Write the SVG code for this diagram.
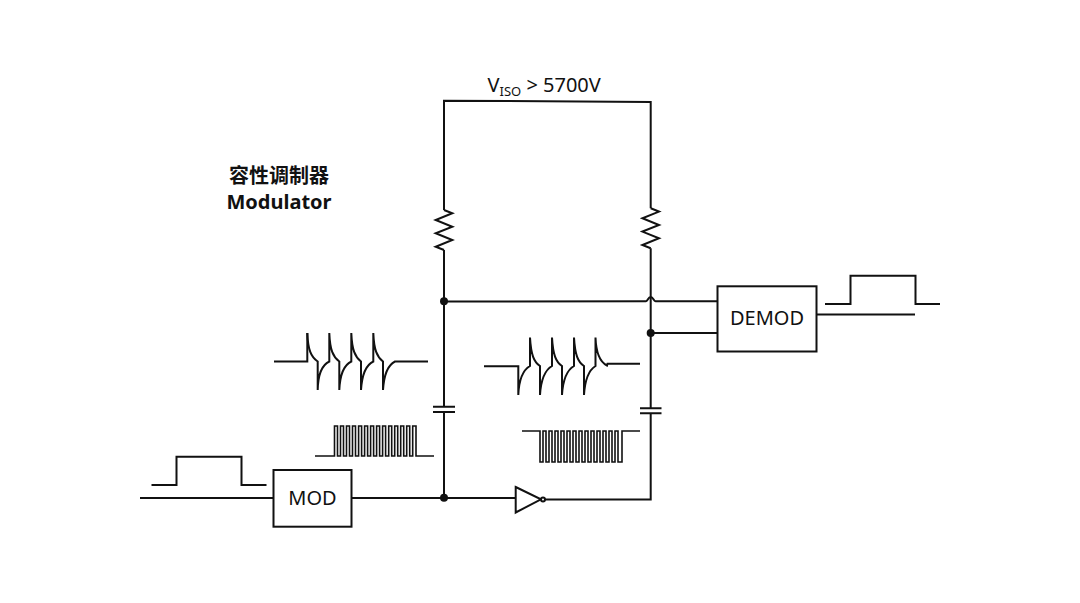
<svg xmlns="http://www.w3.org/2000/svg" width="1080" height="603" viewBox="0 0 1080 603">
<style>
.w{fill:none;stroke:#111;stroke-width:2;stroke-linejoin:miter}
.t{fill:none;stroke:#111;stroke-width:1.6}
.b{fill:#fff;stroke:#111;stroke-width:2}
.d{fill:#111}
text{font-family:"Noto Sans","Noto Sans CJK SC",sans-serif;fill:#111}
.l{font-size:20px;text-anchor:middle}
.h{font-size:20px;font-weight:700;text-anchor:middle}
</style>
<rect width="1080" height="603" fill="#fff"/>
<g id="connectors">
<path class="w" d="M444 210V100.7L650.7 102V208.3"/>
<path class="w" d="M444 250V407M444 412V498"/>
<path class="w" d="M650.7 248.3V408.3M650.7 413.3V499.5H545"/>
<path class="w" d="M444 301.5L646 301.2C648 301.2 648 297 650.7 297C653.4 297 653.4 301.2 655.5 301.2H717.5"/>
<path class="w" d="M651 333H717.5"/>
<path class="w" d="M140 498H273.5M351.5 498H515.5"/>
<path class="w" d="M817 314.5H915"/>
</g>
<g id="junctions">
<circle class="d" cx="444" cy="301.3" r="4"/>
<circle class="d" cx="650.7" cy="333" r="4"/>
<circle class="d" cx="444" cy="497.7" r="4"/>
</g>
<g id="res-left"><path class="w" d="M444 210L452.3 213.3L435.7 220L452.3 226.7L435.7 233.3L452.3 240L435.7 246.7L444 250"/></g>
<g id="res-right"><path class="w" d="M650.7 208.3L659 211.6L642.4 218.3L659 225L642.4 231.6L659 238.3L642.4 245L650.7 248.3"/></g>
<g id="cap-left"><path class="w" d="M433 406.7H455M433 412H455"/></g>
<g id="cap-right"><path class="w" d="M640 408.3H661.5M640 413.3H661.5"/></g>
<g id="mod"><rect class="b" x="273.5" y="470" width="78" height="56.7"/><text class="l" x="312.5" y="505">MOD</text></g>
<g id="demod"><rect class="b" x="717.5" y="286.3" width="99" height="65.2"/><text class="l" x="767" y="325">DEMOD</text></g>
<g id="inverter"><path class="b" d="M515.7 487L541 499.3L515.7 512.5Z"/><circle class="b" cx="543" cy="499.5" r="2" stroke-width="1.5"/></g>
<g id="waveforms">
<path class="w" d="M151.5 485H176.5V456.7H241.5V485H266.5"/>
<path class="w" d="M825 304H850.5V275.8H915.5V304H940"/>
<g id="spikes-left">
<path class="w" d="M274 361.5H307.3V333"/>
<path class="w" d="M307.3 333C308 350 311 357 317.7 361.5V390C318 374 322 365 329.3 361.5V333C330 350 333 357 339.3 361.5V390C340 374 344 365 351.3 361.5V333C352 350 355 357 361 361.5V390C362 374 366 365 373.3 361.5V333C374 350 377 357 383 361.5V390C384 374 388 365 395 361.5H428"/>
</g>
<g id="spikes-right">
<path class="w" d="M484 366.3H518.3V395C519 379 523 370 530 366V337.5C531 355 534 362 540 366V395C541 379 545 370 552 366V337.5C553 355 556 362 562 366V395C563 379 567 370 574 366V337.5C575 355 578 362 584 366V395C585 379 589 370 595.5 366V337.5C596 352 600 362 607 365.5L607.5 363.7H640"/>
</g>
<path class="t" d="M315 456H334.5V426H337.5V456H340.5V426H343.5V456H346.5V426H349.5V456H352.5V426H355.5V456H358.6V426H361.6V456H364.6V426H367.6V456H370.6V426H373.6V456H376.6V426H379.6V456H382.6V426H385.6V456H388.7V426H391.7V456H394.7V426H397.7V456H400.7V426H403.7V456H406.7V426H409.7V456H412.7V426H416V456H434"/>
<path class="t" d="M522 431H540V462H543V431H546V462H549V431H552V462H555V431H558V462H561V431H564V462H567V431H570V462H573V431H576V462H579V431H582V462H585V431H588V462H591V431H594V462H597V431H600V462H603V431H606V462H609V431H612V462H615V431H618V462H622V431H640"/>
</g>
<g id="labels">
<text class="l" x="279" y="0" style="display:none"></text>
<text x="487.5" y="92" font-size="20">V<tspan font-size="13" dy="4">ISO</tspan><tspan dy="-4"> &gt; 5700V</tspan></text>
<text class="h" x="279" y="183">容性调制器</text>
<text class="h" x="279" y="209">Modulator</text>
</g>
</svg>
